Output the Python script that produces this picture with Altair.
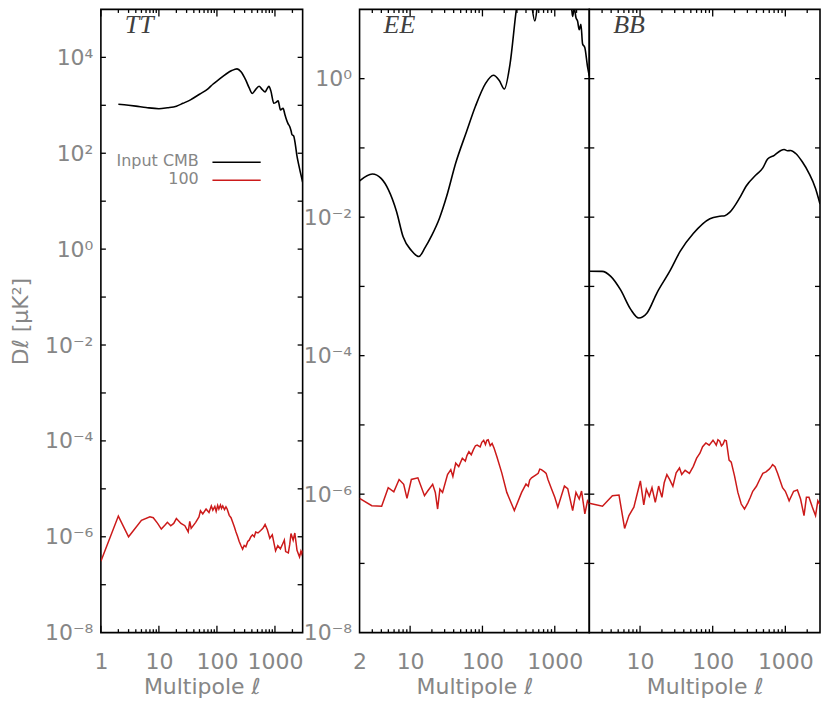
import math
import altair as alt
import pandas as pd

# ---------------- data ----------------
tt_cmb_ell = [2, 3, 4, 6, 10, 14, 20, 26, 35, 50, 70, 85, 110, 144, 180, 222, 260, 316, 360, 407,
              460, 532, 600, 676, 730, 787, 850, 956, 1040, 1135, 1245, 1380, 1480, 1550, 1680,
              1795, 1900, 1965, 2100, 2250, 2390, 2550, 2730, 3000]
tt_cmb_dl = [1050, 1000, 960, 900, 850, 890, 960, 1100, 1300, 1700, 2200, 2750, 3500, 4500, 5300,
             5750, 5000, 3300, 2300, 1760, 2100, 2500, 2150, 1900, 2200, 2500, 2000, 1100, 1150,
             1240, 800, 870, 650, 540, 415, 360, 290, 245, 230, 150, 89, 60, 41, 25]

tt_100_ell = [1, 2, 3, 5, 7, 8, 9.5, 11, 13, 14, 16, 18, 20, 24, 28, 32, 34, 36, 43, 49, 52, 57,
              65, 73, 80, 85, 92, 97, 103, 108, 115, 120, 126, 135, 143, 150, 163, 175, 187, 200,
              213, 228, 242, 260, 277, 295, 315, 340, 360, 385, 410, 440, 466, 510, 567, 620, 676,
              740, 815, 900, 1025, 1120, 1240, 1350, 1450, 1530, 1700, 1800, 1890, 2060, 2200,
              2400, 2650, 2800, 2900, 3000]
tt_100_dl = [3.1e-7, 2.7e-6, 1.0e-6, 2.2e-6, 2.6e-6, 2.5e-6, 1.9e-6, 1.45e-6, 1.8e-6, 2.0e-6,
             1.7e-6, 1.9e-6, 2.4e-6, 1.9e-6, 1.7e-6, 1.26e-6, 2.1e-6, 1.5e-6, 2.0e-6, 2.6e-6,
             3.5e-6, 3.0e-6, 3.8e-6, 3.2e-6, 4.4e-6, 3.6e-6, 4.3e-6, 3.4e-6, 4.5e-6, 3.8e-6,
             4.6e-6, 3.9e-6, 4.4e-6, 3.7e-6, 4.2e-6, 3.8e-6, 2.8e-6, 2.5e-6, 2.0e-6, 1.6e-6,
             1.26e-6, 1.0e-6, 8.0e-7, 6.5e-7, 5.5e-7, 6.6e-7, 6.2e-7, 8.0e-7, 8.5e-7, 1.0e-6,
             1.1e-6, 1.0e-6, 1.26e-6, 1.2e-6, 1.35e-6, 1.5e-6, 1.8e-6, 1.4e-6, 9.3e-7, 1.1e-6,
             5.1e-7, 6.5e-7, 5.6e-7, 7.0e-7, 8.5e-7, 4.9e-7, 4.6e-7, 7.0e-7, 1.17e-6, 8.5e-7,
             1.2e-6, 5.2e-7, 3.8e-7, 5.0e-7, 4.4e-7, 5.2e-7]

ee_cmb_ell = [2, 3, 4, 5, 6.5, 8, 10.4, 13.2, 16, 20, 25.3, 32, 42.6, 60, 80, 110, 142, 170, 201,
              240, 296, 350, 420, 470, 530, 590, 700, 900, 1050, 1300, 1600, 1700, 1766, 1860,
              1964, 2065, 2178, 2300, 2420, 2605, 2840, 3000]
ee_cmb_dl = [0.0335, 0.042, 0.036, 0.025, 0.012, 0.0052, 0.0033, 0.0027, 0.0036, 0.0055, 0.0095,
             0.02, 0.06, 0.17, 0.40, 0.85, 1.12, 0.95, 0.71, 1.6, 10.5, 30, 40, 14, 6.8, 14, 40,
             35, 45, 30, 15, 11, 7.9, 10.5, 7.6, 6.8, 5.1, 6.1, 3.2, 2.8, 1.48, 1.1]

ee_100_ell = [2, 2.95, 4.04, 4.98, 5.95, 7.04, 8.15, 9.05, 10.4, 12.8, 15.8, 17.5, 20.5, 22.3, 24,
              25.8, 28.1, 32.9, 36.5, 39, 42.7, 47, 52.7, 58, 61, 65, 70, 75, 80, 84.5, 93, 98,
              104, 110, 115, 120, 128, 136, 145, 158, 185, 217, 276, 348, 400, 430, 450, 477, 550,
              590, 620, 653, 720, 760, 805, 900, 1000, 1102, 1359, 1510, 1767, 1964, 2178, 2346,
              2605, 2833, 3000]
ee_100_dl = [8.7e-7, 6.8e-7, 6.7e-7, 1.24e-6, 1.08e-6, 1.63e-6, 1.39e-6, 8.7e-7, 1.63e-6,
             1.72e-6, 9.5e-7, 1.11e-6, 1.39e-6, 1.06e-6, 6.1e-7, 1.18e-6, 1.06e-6, 1.92e-6,
             2.26e-6, 1.8e-6, 2.8e-6, 2.5e-6, 3.3e-6, 3.0e-6, 3.6e-6, 4.1e-6, 3.7e-6, 4.4e-6,
             5.0e-6, 5.1e-6, 4.8e-6, 5.6e-6, 6.0e-6, 5.2e-6, 6.0e-6, 6.1e-6, 5.0e-6, 5.4e-6,
             4.6e-6, 3.5e-6, 2.03e-6, 1.06e-6, 5.8e-7, 1.06e-6, 1.4e-6, 1.3e-6, 1.6e-6, 1.72e-6,
             1.9e-6, 2.0e-6, 2.3e-6, 2.26e-6, 2.1e-6, 2.0e-6, 1.63e-6, 1.2e-6, 9.0e-7, 6.5e-7,
             1.31e-6, 1.2e-6, 5.8e-7, 1.06e-6, 8.5e-7, 1.11e-6, 5.2e-7, 8.0e-7, 7.3e-7]

bb_cmb_ell = [2, 3, 3.95, 5.4, 7.4, 9.6, 12.4, 17.1, 26, 35.6, 54, 91.5, 125, 147, 171, 235, 288,
              396, 488, 570, 705, 867, 963, 1071, 1184, 1390, 1710, 2118, 2604, 3000]
bb_cmb_dl = [1.66e-3, 1.65e-3, 1.4e-3, 8.9e-4, 4.7e-4, 3.5e-4, 4.1e-4, 8.1e-4, 1.7e-3, 3.2e-3,
             5.8e-3, 9.5e-3, 0.0103, 0.0105, 0.0117, 0.019, 0.028, 0.041, 0.051, 0.069, 0.078,
             0.092, 0.095, 0.091, 0.092, 0.083, 0.063, 0.043, 0.026, 0.0155]

bb_100_ell = [2, 3.04, 4.16, 5.13, 6.13, 7.03, 8.22, 10.1, 11.25, 12.2, 13.4, 14.6, 16.2, 18, 20,
              21.5, 23.4, 25.5, 28.3, 31.4, 34.9, 37.5, 41.7, 47.8, 54.1, 60.1, 66.7, 72.6, 80.6,
              89.5, 101, 106, 112, 118, 125, 132, 139, 146, 154, 168, 180, 200, 222, 247, 274, 305,
              330, 356, 400, 440, 490, 542, 600, 640, 668, 720, 782, 915, 1000, 1060, 1128, 1300,
              1465, 1620, 1807, 1950, 2114, 2350, 2605, 2800, 3000]
bb_100_dl = [7.4e-7, 6.7e-7, 9.5e-7, 9.7e-7, 3.2e-7, 4.9e-7, 6.5e-7, 1.55e-6, 7.0e-7, 1.18e-6,
             9.3e-7, 1.24e-6, 7.6e-7, 1.31e-6, 9.0e-7, 1.46e-6, 1.92e-6, 1.63e-6, 1.3e-6, 2.03e-6,
             2.39e-6, 1.92e-6, 2.21e-6, 1.99e-6, 2.52e-6, 3.31e-6, 3.9e-6, 4.85e-6, 5.5e-6, 5.1e-6,
             6.0e-6, 5.6e-6, 5.1e-6, 6.1e-6, 5.8e-6, 5.0e-6, 5.3e-6, 6.0e-6, 5.9e-6, 3.1e-6,
             2.9e-6, 1.82e-6, 1.06e-6, 7.2e-7, 6.1e-7, 7.5e-7, 9.0e-7, 1.1e-6, 1.3e-6, 1.6e-6,
             2.0e-6, 2.1e-6, 2.3e-6, 2.5e-6, 2.67e-6, 2.5e-6, 2.0e-6, 1.24e-6, 1.1e-6, 9.5e-7,
             8.0e-7, 1.1e-6, 1.15e-6, 8.5e-7, 4.9e-7, 9.0e-7, 9.0e-7, 6.5e-7, 4.9e-7, 8.0e-7,
             7.0e-7]

panel_names = ["TT", "EE", "BB"]
legend_labels = ["Input CMB", "100"]
x_title = "Multipole ℓ"
y_title = "Dℓ [μK²]"

tt_x_major = [1, 10, 100, 1000]
ee_x_major = [10, 100, 1000]
tt_x_minor = [2, 3, 4, 5, 6, 7, 8, 9, 20, 30, 40, 50, 60, 70, 80, 90,
              200, 300, 400, 500, 600, 700, 800, 900, 2000]
ee_x_minor = [3, 4, 5, 6, 7, 8, 9, 20, 30, 40, 50, 60, 70, 80, 90,
              200, 300, 400, 500, 600, 700, 800, 900, 2000]
tt_x_labels = [1, 10, 100, 1000]
ee_x_labels = [2, 10, 100, 1000]
bb_x_labels = [10, 100, 1000]
tt_y_ticks = [1e-7, 1e-6, 1e-5, 1e-4, 1e-3, 1e-2, 1e-1, 1, 10, 100, 1e3, 1e4]
ee_y_ticks = [1e-7, 1e-6, 1e-5, 1e-4, 1e-3, 1e-2, 1e-1, 1]
tt_y_labels = [1e-8, 1e-6, 1e-4, 1e-2, 1, 1e2, 1e4]
ee_y_labels = [1e-8, 1e-6, 1e-4, 1e-2, 1]

# ---------------- style ----------------
H = 624
W_TT, W_GAP, W_EE, W_BB = 202, 57, 230, 231
GRAY = "#868686"
FONT = "DejaVu Sans"
RED = "#cc1a1a"

SUP = {"-": "⁻", "0": "⁰", "1": "¹", "2": "²", "3": "³", "4": "⁴",
       "5": "⁵", "6": "⁶", "7": "⁷", "8": "⁸", "9": "⁹"}


def sup_label(e):
    return "10" + "".join(SUP[c] for c in str(e))


def y_label_expr(vals):
    expr = "''"
    for v in vals:
        e = int(round(math.log10(v)))
        expr = f"round(log(datum.value)/LN10) == {e} ? '{sup_label(e)}' : ({expr})"
    return expr


def panel(name, cmb_ell, cmb_dl, n_ell, n_dl, xdom, ydom, width, x_major, x_minor,
          x_labels, y_ticks, y_labels, y_axis_mode, legend=False):
    xs = alt.Scale(type="log", domain=xdom, nice=False)
    ys = alt.Scale(type="log", domain=ydom, nice=False)

    xaxis = alt.Axis(values=x_labels, labelExpr="format(datum.value, 'd')", ticks=False,
                     domain=False, grid=False, labelFont=FONT, labelFontSize=22,
                     labelColor=GRAY, labelPadding=19, labelFlush=False, labelOverlap=False,
                     title=x_title, titleFont=FONT, titleFontSize=22, titleFontWeight="normal",
                     titleColor=GRAY, titlePadding=4)
    if y_axis_mode == "full":
        yaxis = alt.Axis(values=y_labels, labelExpr=y_label_expr(y_labels), ticks=False,
                         domain=False, grid=False, labelFont=FONT, labelFontSize=22,
                         labelColor=GRAY, labelPadding=8, labelFlush=False,
                         labelOverlap=False, title=y_title, titleFont=FONT,
                         titleFontSize=22, titleFontWeight="normal", titleColor=GRAY,
                         titlePadding=12)
    elif y_axis_mode == "labels":
        yaxis = alt.Axis(values=y_labels, labelExpr=y_label_expr(y_labels), ticks=False,
                         domain=False, grid=False, labelFont=FONT, labelFontSize=22,
                         labelColor=GRAY, labelPadding=8, labelFlush=False,
                         labelOverlap=False, title="")
    else:
        yaxis = None

    def X(f):
        return alt.X(f, scale=xs, axis=xaxis)

    def Y(f):
        return alt.Y(f, scale=ys, axis=yaxis)

    cmb = alt.Chart(pd.DataFrame({"ell": cmb_ell, "dl": cmb_dl})).mark_line(
        clip=True, color="black", strokeWidth=1.6, interpolate="monotone"
    ).encode(x=X("ell:Q"), y=Y("dl:Q"))
    noise = alt.Chart(pd.DataFrame({"ell": n_ell, "dl": n_dl})).mark_line(
        clip=True, color=RED, strokeWidth=1.5
    ).encode(x=X("ell:Q"), y=Y("dl:Q"))

    layers = [cmb, noise]

    # inward ticks (IDL style)
    maj = pd.DataFrame({"ell": x_major})
    mnr = pd.DataFrame({"ell": x_minor})
    yt = pd.DataFrame({"dl": y_ticks})
    rule = dict(color="black", strokeWidth=1.3)
    for df, ln in [(maj, 7), (mnr, 3.5)]:
        layers.append(alt.Chart(df).mark_rule(**rule).encode(
            x=X("ell:Q"), y=alt.value(H), y2=alt.value(H - ln)))
        layers.append(alt.Chart(df).mark_rule(**rule).encode(
            x=X("ell:Q"), y=alt.value(0), y2=alt.value(ln)))
    layers.append(alt.Chart(yt).mark_rule(**rule).encode(
        y=Y("dl:Q"), x=alt.value(0), x2=alt.value(5)))
    layers.append(alt.Chart(yt).mark_rule(**rule).encode(
        y=Y("dl:Q"), x=alt.value(width), x2=alt.value(width - 5)))

    # panel name
    layers.append(alt.Chart(pd.DataFrame({"t": [name]})).mark_text(
        font="Liberation Serif", fontStyle="italic", fontSize=26, color="#404040",
        align="left", baseline="alphabetic"
    ).encode(text="t:N", x=alt.value(24), y=alt.value(24)))

    if legend:
        for lab, col, yy in [(legend_labels[0], "black", 152), (legend_labels[1], RED, 170)]:
            layers.append(alt.Chart(pd.DataFrame({"t": [lab]})).mark_text(
                font=FONT, fontSize=16, color=GRAY, align="right", baseline="middle"
            ).encode(text="t:N", x=alt.value(98), y=alt.value(yy)))
            layers.append(alt.Chart(pd.DataFrame({"t": [lab]})).mark_rule(
                color=col, strokeWidth=1.6
            ).encode(x=alt.value(111.7), x2=alt.value(160), y=alt.value(yy + 1)))

    return alt.layer(*layers).properties(width=width, height=H)


tt = panel("TT", tt_cmb_ell, tt_cmb_dl, tt_100_ell, tt_100_dl, [1, 3000], [1e-8, 1e5], W_TT,
           tt_x_major, tt_x_minor, tt_x_labels, tt_y_ticks, tt_y_labels, "full", legend=True)
ee = panel("EE", ee_cmb_ell, ee_cmb_dl, ee_100_ell, ee_100_dl, [2, 3000], [1e-8, 10], W_EE,
           ee_x_major, ee_x_minor, ee_x_labels, ee_y_ticks, ee_y_labels, "labels")
bb = panel("BB", bb_cmb_ell, bb_cmb_dl, bb_100_ell, bb_100_dl, [2, 3000], [1e-8, 10], W_BB,
           ee_x_major, ee_x_minor, bb_x_labels, ee_y_ticks, ee_y_labels, "none")

spacer = alt.Chart(pd.DataFrame({"t": [""]})).mark_text().encode(
    text="t:N", x=alt.value(20), y=alt.value(300)
).properties(width=W_GAP, height=H, view=alt.ViewBackground(stroke="transparent"))

chart = alt.hconcat(tt, spacer, ee, bb, spacing=0, bounds="flush").properties(
    padding={"left": 0, "top": -1, "right": 0, "bottom": 0}
).configure(background="white").configure_view(stroke="black", strokeWidth=1.6)

chart.save("out.html", embed_options={"renderer": "svg", "actions": False})
